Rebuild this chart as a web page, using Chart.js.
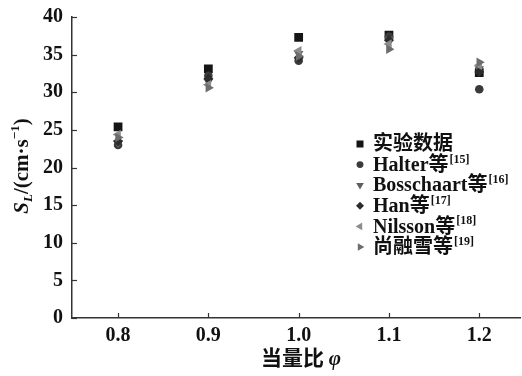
<!DOCTYPE html>
<html>
<head>
<meta charset="utf-8">
<script src="https://cdn.jsdelivr.net/npm/chart.js@4.4.1/dist/chart.umd.min.js"></script>
<style>
  html, body { margin: 0; padding: 0; background: #fff; overflow: hidden; }
  #wrap { width: 522px; height: 376px; overflow: hidden; }
</style>
</head>
<body>
<!-- canvas a few px wider than the page so the x axis runs to the edge -->
<div id="wrap"><canvas id="sl-chart" width="527" height="376"></canvas></div>
<script>
// equivalence ratio and laminar burning velocity (cm/s)
var phi = [0.8, 0.9, 1.0, 1.1, 1.2];
var experiment = [25.4, 33.1, 37.3, 37.6, 32.6];
var halter     = [23.0, 32.2, 34.2, 37.4, 30.4];
var bosschaart = [23.3, 31.4, 35.1, 37.0, 33.1];
var han        = [23.5, 31.8, 34.6, 36.9, 32.7];
var nilsson    = [24.4, 31.0, 35.5, 36.4, 33.6];
var shang      = [24.0, 30.6, 34.8, 35.7, 34.0];

var names = ['实验数据', 'Halter等', 'Bosschaart等', 'Han等', 'Nilsson等', '尚融雪等'];
var refs = ['', '[15]', '[16]', '[17]', '[18]', '[19]'];
var xTicks = [0.8, 0.9, 1.0, 1.1, 1.2];

var serif = '"Liberation Serif", "Noto Sans CJK SC", serif';

function pts(ys) {
  return phi.map(function (x, i) { return { x: x, y: ys[i] }; });
}

var styles = [
  { pointStyle: 'rect',     radius: 6.2, rotation: 0,   color: '#151515' },
  { pointStyle: 'circle',   radius: 4.3, rotation: 0,   color: '#3a3a3a' },
  { pointStyle: 'triangle', radius: 5.5, rotation: 180, color: '#5e5e5e' },
  { pointStyle: 'rectRot',  radius: 5.0, rotation: 0,   color: '#2c2c2c' },
  { pointStyle: 'triangle', radius: 5.5, rotation: 270, color: '#8c8c8c' },
  { pointStyle: 'triangle', radius: 5.5, rotation: 90,  color: '#6c6c6c' }
];
var series = [experiment, halter, bosschaart, han, nilsson, shang];

var datasets = series.map(function (ys, i) {
  var s = styles[i];
  return {
    label: names[i],
    data: pts(ys),
    pointStyle: s.pointStyle,
    pointRadius: s.radius,
    pointRotation: s.rotation,
    pointBackgroundColor: s.color,
    pointBorderColor: s.color,
    pointBorderWidth: 0,
    showLine: false
  };
}).reverse();

// inward tick marks
var innerTicks = {
  id: 'innerTicks',
  afterDraw: function (chart) {
    var ctx = chart.ctx, a = chart.chartArea;
    ctx.save();
    ctx.strokeStyle = '#333';
    ctx.lineWidth = 1.2;
    chart.scales.y.ticks.forEach(function (t) {
      var py = Math.round(chart.scales.y.getPixelForValue(t.value)) + 0.5;
      ctx.beginPath(); ctx.moveTo(a.left, py); ctx.lineTo(a.left + 5, py); ctx.stroke();
    });
    chart.scales.x.ticks.forEach(function (t) {
      var px = Math.round(chart.scales.x.getPixelForValue(t.value)) + 0.5;
      ctx.beginPath(); ctx.moveTo(px, a.bottom); ctx.lineTo(px, a.bottom - 5); ctx.stroke();
    });
    ctx.restore();
  }
};

// legend with superscript references
var refLegend = {
  id: 'refLegend',
  afterDraw: function (chart) {
    var ctx = chart.ctx;
    var mx = 360, tx = 373, y0 = 144, step = 20.6;
    ctx.save();
    ctx.textBaseline = 'middle';
    names.forEach(function (name, i) {
      var y = y0 + i * step;
      var s = styles[i];
      ctx.fillStyle = s.color;
      ctx.strokeStyle = s.color;
      Chart.helpers.drawPoint(ctx, {
        pointStyle: s.pointStyle,
        radius: s.radius * 0.8,
        rotation: s.rotation,
        borderWidth: 0
      }, mx, y);
      ctx.fillStyle = '#111';
      ctx.font = 'bold 20px ' + serif;
      ctx.textAlign = 'left';
      ctx.fillText(name, tx, y + 1);
      var w = ctx.measureText(name).width;
      if (refs[i]) {
        ctx.font = 'bold 12px ' + serif;
        ctx.fillText(refs[i], tx + w + 1, y - 5);
      }
    });
    ctx.restore();
  }
};

// axis titles with italic symbols and sub/superscripts
var axisTitles = {
  id: 'axisTitles',
  afterDraw: function (chart) {
    var ctx = chart.ctx;
    ctx.save();
    ctx.fillStyle = '#111';
    ctx.textBaseline = 'alphabetic';

    // y title
    var parts = [
      { t: 'S', f: 'italic bold 21px ' + serif, dy: 0 },
      { t: 'L', f: 'italic bold 13px ' + serif, dy: 4 },
      { t: '/(cm·s', f: 'bold 21px ' + serif, dy: 0 },
      { t: '−1', f: 'bold 13px ' + serif, dy: -9 },
      { t: ')', f: 'bold 21px ' + serif, dy: 0 }
    ];
    var total = 0;
    parts.forEach(function (p) { ctx.font = p.f; p.w = ctx.measureText(p.t).width; total += p.w; });
    ctx.translate(28, 166);
    ctx.rotate(-Math.PI / 2);
    var x = -total / 2;
    parts.forEach(function (p) {
      ctx.font = p.f;
      ctx.fillText(p.t, x, p.dy);
      x += p.w;
    });
    ctx.restore();

    // x title
    ctx.save();
    ctx.fillStyle = '#111';
    ctx.textBaseline = 'alphabetic';
    var xp = [
      { t: '当量比 ', f: 'bold 21px "Noto Sans CJK SC", sans-serif' },
      { t: 'φ', f: 'italic bold 21px ' + serif }
    ];
    var tw = 0;
    xp.forEach(function (p) { ctx.font = p.f; p.w = ctx.measureText(p.t).width; tw += p.w; });
    var sx = 301 - tw / 2;
    xp.forEach(function (p) {
      ctx.font = p.f;
      ctx.fillText(p.t, sx, 365);
      sx += p.w;
    });
    ctx.restore();
  }
};

var ctx = document.getElementById('sl-chart').getContext('2d');
var slChart = new Chart(ctx, {
  type: 'scatter',
  data: { datasets: datasets },
  options: {
    responsive: false,
    animation: false,
    layout: { padding: { top: 17, right: 0, left: 0, bottom: 0 } },
    plugins: {
      legend: { display: false },
      tooltip: { enabled: false }
    },
    scales: {
      x: {
        type: 'linear',
        min: 0.749,
        max: 1.246,
        afterBuildTicks: function (axis) {
          axis.ticks = xTicks.map(function (v) { return { value: v }; });
        },
        afterFit: function (axis) { axis.height = 58; },
        grid: { display: false },
        border: { display: true, color: '#333', width: 1.5 },
        ticks: {
          padding: -2,
          color: '#111',
          font: { family: serif, size: 20, weight: 'bold' },
          callback: function (v) { return v.toFixed(1); }
        }
      },
      y: {
        min: 0,
        max: 40,
        afterFit: function (axis) { axis.width = 72; },
        grid: { display: false },
        border: { display: true, color: '#333', width: 1.5 },
        ticks: {
          stepSize: 5,
          padding: 1,
          color: '#111',
          font: { family: serif, size: 20, weight: 'bold' }
        }
      }
    }
  },
  plugins: [innerTicks, refLegend, axisTitles]
});
</script>
</body>
</html>
